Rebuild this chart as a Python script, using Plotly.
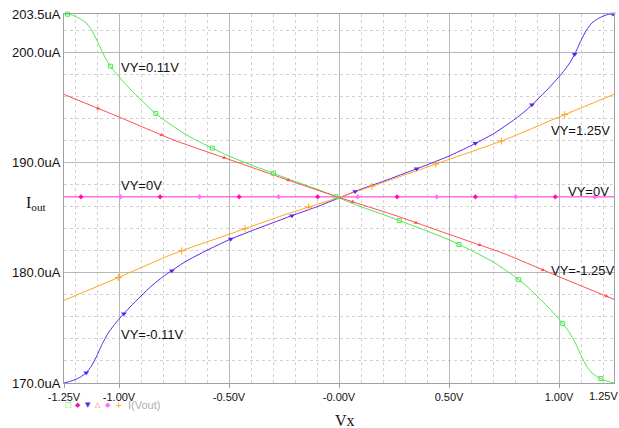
import numpy as np
import plotly.graph_objects as go

# ---- data ----
GX = [-1.25, -1.225, -1.2, -1.175, -1.15, -1.125, -1.1, -1.075, -1.05, -1.025, -1.0, -0.95, -0.9,
      -0.85, -0.8, -0.7, -0.6, -0.5, -0.4, -0.3, -0.2, -0.1, 0.0, 0.1, 0.2, 0.3, 0.4, 0.5, 0.6,
      0.7, 0.8, 0.85, 0.9, 0.95, 1.0, 1.025, 1.05, 1.075, 1.1, 1.125, 1.15, 1.175, 1.2, 1.225, 1.25]
VY_P011 = [203.5, 203.47, 203.3, 203.05, 202.7, 202.05, 201.1, 200.0, 199.1, 198.4, 197.8, 196.7,
           195.7, 194.75, 193.95, 192.6, 191.55, 190.6, 189.8, 189.05, 188.3, 187.6, 186.8, 186.0,
           185.3, 184.55, 183.8, 183.0, 182.05, 181.0, 179.65, 178.85, 177.9, 176.9, 175.8, 175.2,
           174.5, 173.6, 172.5, 171.55, 170.9, 170.55, 170.3, 170.13, 170.0]
VY_N011 = [170.0, 170.13, 170.3, 170.55, 170.9, 171.55, 172.5, 173.6, 174.5, 175.2, 175.8, 176.9,
           177.9, 178.85, 179.65, 181.0, 182.05, 183.0, 183.8, 184.55, 185.3, 186.0, 186.8, 187.6,
           188.3, 189.05, 189.8, 190.6, 191.55, 192.6, 193.95, 194.75, 195.7, 196.7, 197.8, 198.4,
           199.1, 200.0, 201.1, 202.05, 202.7, 203.05, 203.3, 203.47, 203.5]
RX = [-1.25, -1.0, -0.75, -0.5, -0.25, 0.0, 0.25, 0.5, 0.75, 1.0, 1.25]
VY_N125 = [196.2, 194.15, 192.05, 190.3, 188.55, 186.85, 185.25, 183.5, 181.75, 179.65, 177.6]
VY_P125 = [177.5, 179.6, 181.75, 183.5, 185.25, 186.85, 188.55, 190.3, 192.05, 194.15, 196.2]
FX = [-1.25, 1.25]
VY_0A = [186.9, 186.9]
VY_0B = [186.9, 186.9]

# marker positions along each curve (x, V)
MK_GREEN = [-1.234, -1.038, -0.833, -0.576, -0.298, -0.014, 0.274, 0.545, 0.817, 1.017, 1.19]
MK_BLUE = [-1.149, -0.978, -0.76, -0.492, -0.214, 0.073, 0.353, 0.62, 0.877, 1.071, 1.245]
MK_RED = [-1.095, -0.806, -0.522, -0.23, 0.062, 0.35, 0.64, 0.927, 1.216]
MK_ORANGE = [-1.003, -0.715, -0.427, -0.138, 0.15, 0.44, 0.738, 1.026]
MK_MAG = [-1.173, -0.813, -0.454, -0.097, 0.264, 0.62, 0.983]
MK_PINK = [-0.993, -0.634, -0.275, 0.085, 0.444, 0.803, 1.162]

X_TICKS = [-1.25, -1.0, -0.5, 0.0, 0.5, 1.0]
X_TEXT = ["-1.25V", "-1.00V", "-0.50V", "-0.00V", "0.50V", "1.00V"]
X_LAST = "1.25V"
Y_TICKS = [170.0, 180.0, 190.0, 200.0, 203.5]
Y_TEXT = ["170.0uA", "180.0uA", "190.0uA", "200.0uA", "203.5uA"]

GREEN = "#4ee64e"
BLUE = "#5a22ee"
RED = "#ff4f4f"
ORANGE = "#ffa41c"
MAG = "#ff3fe0"
MAG_MK = "#ff10b0"
PINK_MK = "#ff70ff"

fig = go.Figure()

def curve(x, y, color, shape="spline", width=1.0):
    fig.add_trace(go.Scatter(x=x, y=y, mode="lines",
                             line=dict(color=color, width=width, shape=shape, smoothing=0.5),
                             showlegend=False, hoverinfo="skip"))

def marks(mx, x, y, color, symbol, size, open_=False):
    my = np.interp(mx, x, y)
    m = dict(symbol=symbol, size=size, color=color)
    if open_:
        m["line"] = dict(color=color, width=1)
    fig.add_trace(go.Scatter(x=mx, y=my, mode="markers", marker=m, showlegend=False,
                             hoverinfo="skip", cliponaxis=False))

curve(GX, VY_P011, GREEN)
curve(FX, VY_0A, MAG, "linear", 0.7)
curve(GX, VY_N011, BLUE)
curve(RX, VY_N125, RED)
curve(FX, VY_0B, MAG, "linear", 0.7)
curve(RX, VY_P125, ORANGE)

marks(MK_GREEN, GX, VY_P011, GREEN, "square-open", 4, True)
marks(MK_MAG, FX, VY_0A, MAG_MK, "diamond", 4)
marks(MK_BLUE, GX, VY_N011, BLUE, "triangle-down", 5)
marks(MK_RED, RX, VY_N125, RED, "triangle-up", 4)
marks(MK_PINK, FX, VY_0B, PINK_MK, "diamond", 4)
marks(MK_ORANGE, RX, VY_P125, ORANGE, "cross-thin-open", 5, True)

ann = []
lab_font = dict(family="Liberation Sans, Arial", size=13, color="#111111")
for txt, x, y in [("VY=0.11V", -1.0, 198.6), ("VY=0V", -1.0, 187.9), ("VY=-0.11V", -1.0, 174.4),
                  ("VY=1.25V", 0.953, 192.9), ("VY=0V", 1.031, 187.4), ("VY=-1.25V", 0.953, 180.25)]:
    ann.append(dict(x=x, y=y, xref="x", yref="y", text=txt, showarrow=False, xanchor="left",
                    yanchor="middle", font=lab_font))

# pixel-positioned texts
pix = []
pix.append(dict(x=36, y=203, text="I<sub>out</sub>",
                font=dict(family="Liberation Serif, Times New Roman", size=16, color="#111111")))
pix.append(dict(x=345, y=421, text="Vx",
                font=dict(family="Liberation Serif, Times New Roman", size=16, color="#111111")))
pix.append(dict(x=603, y=396, text=X_LAST,
                font=dict(family="Liberation Sans, Arial", size=11, color="#111111")))
leg_syms = [("□", GREEN), ("◆", MAG_MK), ("▼", BLUE), ("△", RED), ("◆", PINK_MK), ("+", ORANGE)]
for i, (s, c) in enumerate(leg_syms):
    pix.append(dict(x=68 + i * 10.1, y=405, text=s, borderpad=0,
                    font=dict(size=7 if s != "+" else 9, color=c, family="DejaVu Sans")))
pix.append(dict(x=127, y=405, text="I(Vout)", xanchor="left", borderpad=0,
                font=dict(size=11, color="#b0b0b0", family="Liberation Sans, Arial")))

W, H = 619, 428
L, R, T, B = 64, 5, 14, 45
pw, ph = W - L - R, H - T - B
for a in pix:
    a.update(xref="paper", yref="paper", showarrow=False,
             x=(a["x"] - L) / pw, y=(H - B - a["y"]) / ph)
    a.setdefault("yanchor", "middle")
    a.setdefault("xanchor", "center")
    ann.append(a)

fig.update_layout(
    width=W, height=H, margin=dict(l=L, r=R, t=T, b=B),
    paper_bgcolor="white", plot_bgcolor="white",
    annotations=ann, showlegend=False,
    xaxis=dict(range=[-1.25, 1.25], tickvals=X_TICKS, ticktext=X_TEXT, showgrid=True,
               gridcolor="#b8b8b8", gridwidth=1, zeroline=False, showline=True, mirror=True,
               linecolor="#a0a0a0", linewidth=1, ticks="outside", ticklen=4, tickcolor="#a0a0a0",
               tickfont=dict(family="Liberation Sans, Arial", size=11, color="#111111"),
               minor=dict(tick0=0, dtick=0.1, showgrid=True, gridcolor="#d2d2d2", griddash="dot",
                          ticks="")),
    yaxis=dict(range=[170, 203.5], tickvals=Y_TICKS, ticktext=Y_TEXT, showgrid=True,
               gridcolor="#b8b8b8", gridwidth=1, zeroline=False, showline=True, mirror=True,
               linecolor="#a0a0a0", linewidth=1, ticks="", ticklabelstandoff=0,
               tickfont=dict(family="Liberation Sans, Arial", size=13, color="#111111"),
               minor=dict(tick0=0, dtick=2, showgrid=True, gridcolor="#d2d2d2", griddash="dot",
                          ticks="")),
)

fig.write_html("out.html")
